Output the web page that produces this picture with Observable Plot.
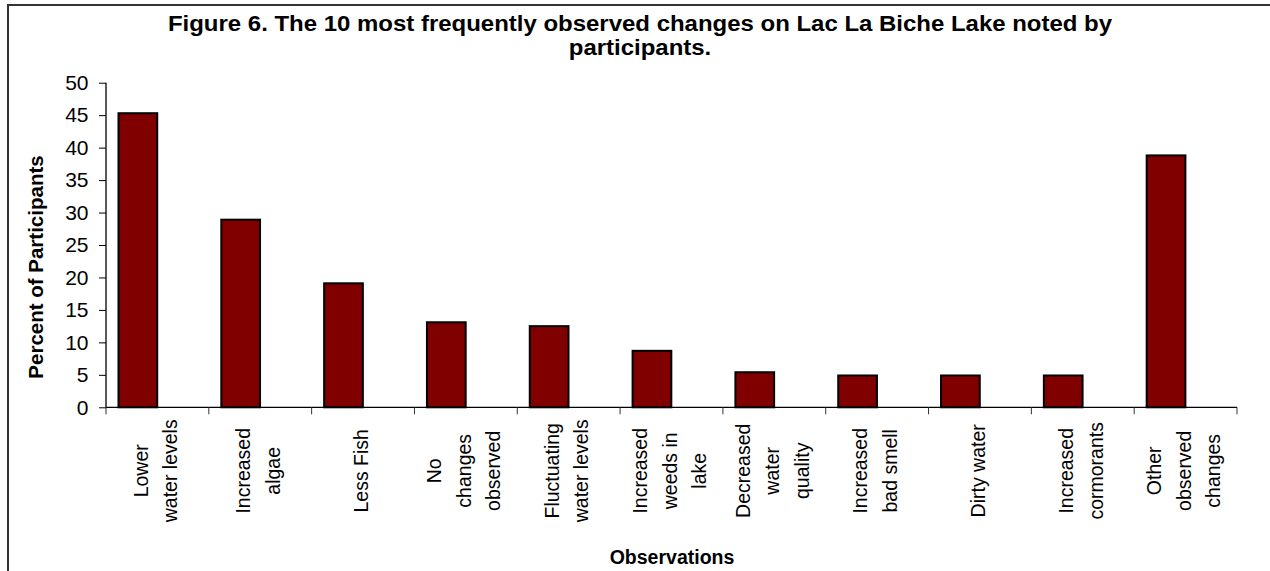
<!DOCTYPE html>
<html>
<head>
<meta charset="utf-8">
<script src="https://cdn.jsdelivr.net/npm/d3@7"></script>
<script src="https://cdn.jsdelivr.net/npm/@observablehq/plot@0.6"></script>
<style>
  html, body { margin: 0; padding: 0; background: #fff; }
  #wrap { position: relative; width: 1270px; height: 571px; overflow: hidden; font-family: "Liberation Sans", Arial, sans-serif; color: #000; }
  #box { position: absolute; left: 7px; top: 4px; right: -4px; bottom: -4px; border-top: 2px solid #333; border-left: 2px solid #333; }
  #title { position: absolute; left: 0; width: 1280px; top: 12px; text-align: center; font-weight: bold; font-size: 22.5px; line-height: 24px; transform: scaleX(1.065); transform-origin: 640px 0; }
  #ytitle { position: absolute; left: 36px; top: 267px; transform: translate(-50%, -50%) rotate(-90deg); white-space: nowrap; font-weight: bold; font-size: 20.5px; }
  #xtitle { position: absolute; left: 672px; top: 557px; transform: translate(-50%, -50%); white-space: nowrap; font-weight: bold; font-size: 19.5px; }
  #chart { position: absolute; left: 0; top: 0; }
</style>
</head>
<body>
<div id="wrap">
  <div id="box"></div>
  <div id="chart"></div>
  <div id="title">Figure 6. The 10 most frequently observed changes on Lac La Biche Lake noted by<br>participants.</div>
  <div id="ytitle">Percent of Participants</div>
  <div id="xtitle">Observations</div>
</div>
<script>
const categories = [
  "Lower\nwater levels",
  "Increased\nalgae",
  "Less Fish",
  "No\nchanges\nobserved",
  "Fluctuating\nwater levels",
  "Increased\nweeds in\nlake",
  "Decreased\nwater\nquality",
  "Increased\nbad smell",
  "Dirty water",
  "Increased\ncormorants",
  "Other\nobserved\nchanges"
];
const percents = [45.3, 28.9, 19.1, 13.1, 12.5, 8.7, 5.4, 4.9, 4.9, 4.9, 38.8];
const yTicks = [0, 5, 10, 15, 20, 25, 30, 35, 40, 45, 50];

const data = categories.map((c, i) => ({category: c, value: percents[i]}));

// Axis lines and category boundary ticks, computed from the plot's scales
function axisFrame(index, scales, values, dimensions) {
  const {x, y} = scales;
  const g = d3.create("svg:g").attr("stroke", "#000").attr("fill", "none");
  const y0 = y(0);
  const left = dimensions.marginLeft;
  const right = dimensions.width - dimensions.marginRight;
  g.append("line").attr("x1", left).attr("x2", left).attr("y1", y(yTicks[yTicks.length - 1])).attr("y2", y0).attr("stroke-width", 1.3);
  g.append("line").attr("x1", left).attr("x2", right).attr("y1", y0).attr("y2", y0).attr("stroke-width", 1.3);
  const bounds = categories.map(c => x(c)).concat([right]);
  for (const bx of bounds) {
    g.append("line").attr("x1", bx).attr("x2", bx).attr("y1", y0).attr("y2", y0 + 7).attr("stroke", "#333");
  }
  return g.node();
}

const chart = Plot.plot({
  width: 1270,
  height: 571,
  marginLeft: 106,
  marginRight: 33,
  marginTop: 82.7,
  marginBottom: 163.7,
  style: {fontFamily: "'Liberation Sans', Arial, sans-serif", background: "transparent", color: "#000"},
  x: {domain: categories, padding: 0, round: false, axis: null},
  y: {domain: [0, 50], axis: null},
  marks: [
    Plot.barY(data, {x: "category", y: "value", fill: "#800000", stroke: "#000", strokeWidth: 2, insetLeft: 12.5, insetRight: 51.6}),
    axisFrame,
    Plot.axisY({ticks: yTicks, tickSize: 7, tickPadding: 11, fontSize: 21, label: null, color: "#000"}),
    Plot.text(data, {x: "category", y: () => 0, text: "category", rotate: -90, textAnchor: "middle", lineAnchor: "middle", lineHeight: 1.52, dy: 63, dx: -5, fontSize: 19.5, fill: "#000"})
  ]
});
document.getElementById("chart").appendChild(chart);
</script>
</body>
</html>
